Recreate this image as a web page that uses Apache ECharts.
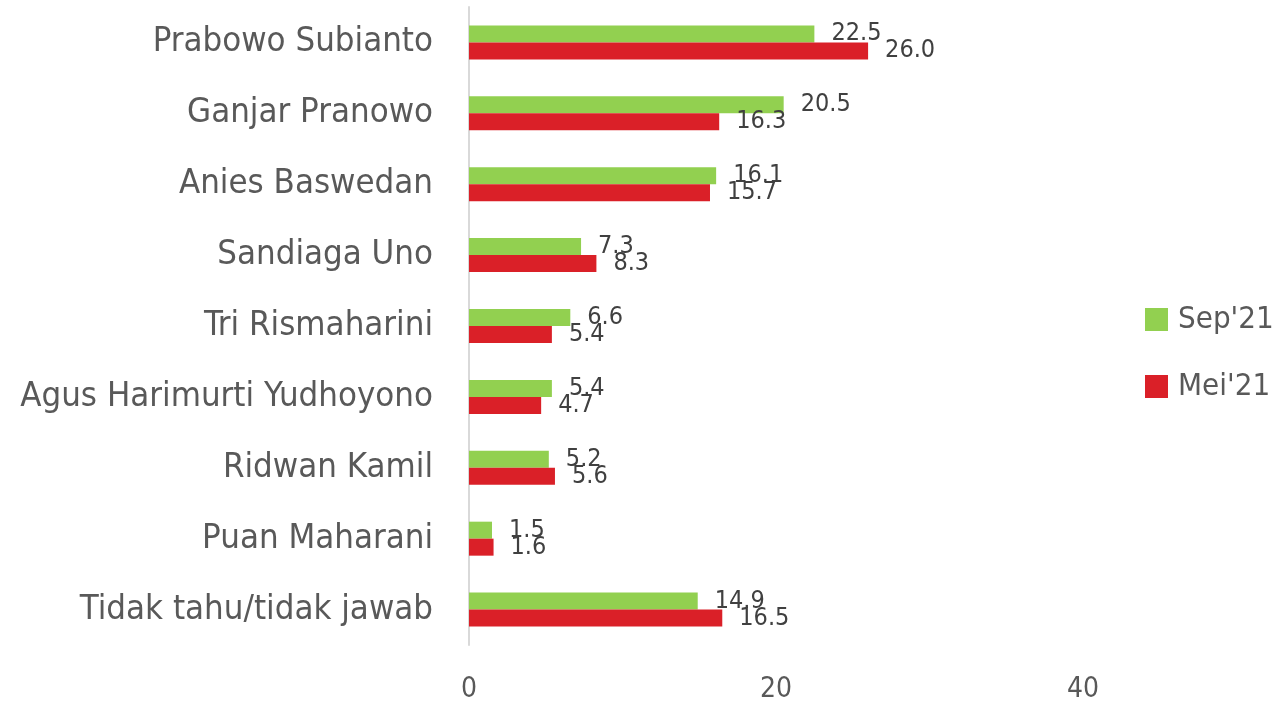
<!DOCTYPE html>
<html>
<head>
<meta charset="utf-8">
<script src="https://cdn.jsdelivr.net/npm/echarts@6/dist/echarts.min.js"></script>
<style>
  html, body { margin: 0; padding: 0; background: #fff; }
  #chart { width: 1278px; height: 701px; }
</style>
</head>
<body>
<div id="chart"></div>
<script>
// data
const names = ['Prabowo Subianto', 'Ganjar Pranowo', 'Anies Baswedan', 'Sandiaga Uno',
  'Tri Rismaharini', 'Agus Harimurti Yudhoyono', 'Ridwan Kamil', 'Puan Maharani',
  'Tidak tahu/tidak jawab'];
const sep21 = [22.5, 20.5, 16.1, 7.3, 6.6, 5.4, 5.2, 1.5, 14.9];
const mei21 = [26.0, 16.3, 15.7, 8.3, 5.4, 4.7, 5.6, 1.6, 16.5];
const seriesNames = ["Sep'21", "Mei'21"];

const font = 'DejaVu Sans Condensed';
const textColor = '#595959';

let myChart = echarts.init(document.getElementById('chart'));

function barSeries(name, data, color) {
  return {
    name: name,
    type: 'bar',
    data: data,
    barWidth: 17,
    barGap: '0%',
    itemStyle: { color: color },
    label: {
      show: true,
      position: 'right',
      distance: 17,
      color: '#404040',
      fontFamily: font,
      fontSize: 25,
      formatter: p => p.value.toFixed(1)
    }
  };
}

let option = {
  animation: false,
  grid: { left: 469, right: 195, top: 7, bottom: 56, outerBoundsMode: 'none', containLabel: false },
  legend: {
    orient: 'vertical',
    left: 1140,
    top: 299,
    itemWidth: 23,
    itemHeight: 23,
    itemGap: 36,
    icon: 'rect',
    textStyle: { color: textColor, fontFamily: font, fontSize: 31, padding: [0, 0, 0, 5] },
    data: seriesNames
  },
  xAxis: {
    type: 'value',
    min: 0,
    max: 40,
    interval: 20,
    axisLine: { show: false },
    axisTick: { show: false },
    splitLine: { show: false },
    axisLabel: { color: textColor, fontFamily: font, fontSize: 28, margin: 31 }
  },
  yAxis: {
    type: 'category',
    inverse: true,
    data: names,
    axisLine: { show: true, lineStyle: { color: '#d9d9d9', width: 2 } },
    axisTick: { show: false },
    axisLabel: { color: textColor, fontFamily: font, fontSize: 34.5, margin: 36 }
  },
  series: [
    barSeries(seriesNames[0], sep21, '#92D050'),
    barSeries(seriesNames[1], mei21, '#DA2028')
  ]
};
myChart.setOption(option);
</script>
</body>
</html>
